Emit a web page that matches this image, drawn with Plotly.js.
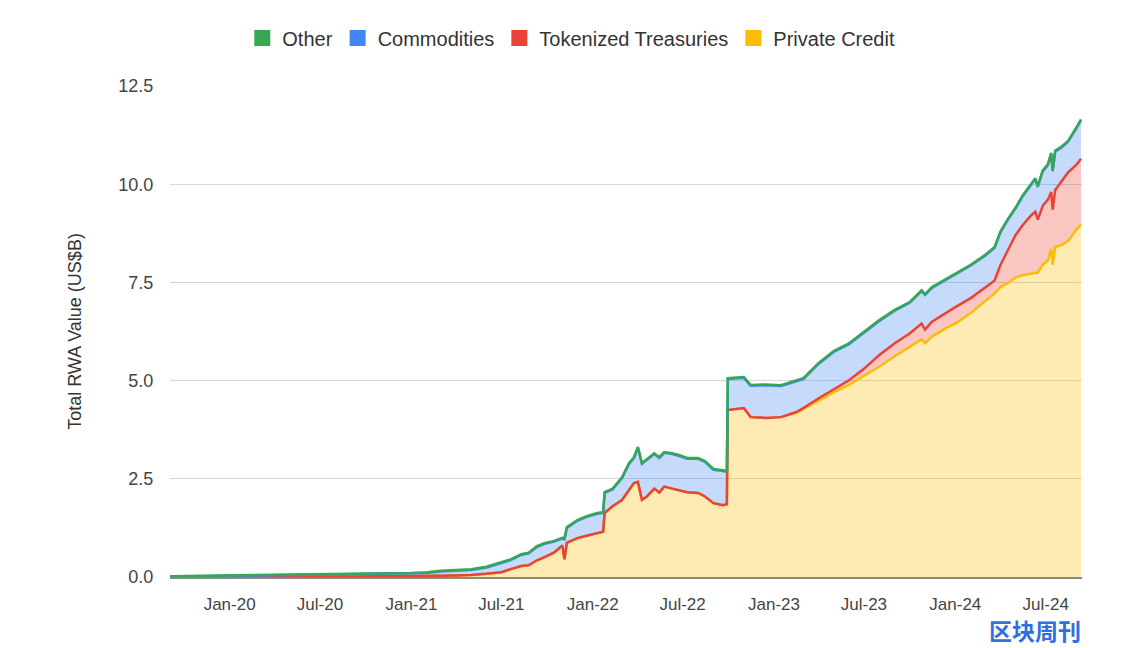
<!DOCTYPE html>
<html>
<head>
<meta charset="utf-8">
<script src="https://cdn.plot.ly/plotly-3.0.1.min.js"></script>
<style>
  body { margin: 0; background: #fff; }
  #rwa_chart { width: 1122px; height: 648px; }
</style>
</head>
<body>
<div id="rwa_chart"></div>
<script>
// dates of the readings
let dates = [
    "2019-09-03", "2019-11-01", "2020-01-01", "2020-03-01", "2020-05-01", "2020-07-01",
    "2020-09-01", "2020-11-01", "2021-01-01", "2021-02-01", "2021-03-01", "2021-04-01",
    "2021-05-01", "2021-06-01", "2021-07-01", "2021-07-20", "2021-08-10", "2021-08-25",
    "2021-09-10", "2021-09-25", "2021-10-15", "2021-11-01", "2021-11-05", "2021-11-10",
    "2021-12-01", "2021-12-20", "2022-01-10", "2022-01-22", "2022-01-25", "2022-02-10",
    "2022-03-01", "2022-03-15", "2022-03-25", "2022-04-02", "2022-04-10", "2022-04-20",
    "2022-05-05", "2022-05-15", "2022-05-25", "2022-06-10", "2022-06-25", "2022-07-10",
    "2022-08-01", "2022-08-15", "2022-09-01", "2022-09-20", "2022-09-28", "2022-09-30",
    "2022-11-01", "2022-11-15", "2022-12-15", "2023-01-15", "2023-02-15", "2023-03-01",
    "2023-04-01", "2023-05-01", "2023-06-01", "2023-07-01", "2023-08-01", "2023-09-01",
    "2023-10-01", "2023-10-25", "2023-11-01", "2023-11-15", "2023-12-15", "2024-01-01",
    "2024-02-01", "2024-03-01", "2024-03-10", "2024-03-20", "2024-04-01", "2024-04-15",
    "2024-05-01", "2024-05-15", "2024-06-01", "2024-06-10", "2024-06-15", "2024-06-25",
    "2024-07-05", "2024-07-12", "2024-07-15", "2024-07-20", "2024-08-01", "2024-08-15",
    "2024-09-01", "2024-09-10"
];

// US$B per category (not stacked)
let privateCredit = [
    0.00, 0.00, 0.01, 0.01, 0.01, 0.01,
    0.01, 0.02, 0.02, 0.02, 0.03, 0.04,
    0.05, 0.08, 0.12, 0.20, 0.28, 0.30,
    0.42, 0.50, 0.62, 0.80, 0.45, 0.87,
    0.99, 1.05, 1.12, 1.15, 1.63, 1.80,
    1.96, 2.20, 2.39, 2.42, 1.96, 2.05,
    2.25, 2.15, 2.30, 2.25, 2.20, 2.16,
    2.14, 2.05, 1.88, 1.83, 1.85, 4.25,
    4.30, 4.07, 4.05, 4.07, 4.18, 4.28,
    4.50, 4.70, 4.89, 5.12, 5.36, 5.62,
    5.85, 6.05, 5.95, 6.12, 6.35, 6.45,
    6.72, 7.02, 7.12, 7.22, 7.38, 7.48,
    7.62, 7.68, 7.72, 7.73, 7.75, 7.95,
    8.05, 8.35, 7.95, 8.40, 8.45, 8.55,
    8.85, 8.97
];

let treasuries = [
    0, 0, 0, 0, 0, 0,
    0, 0, 0, 0, 0, 0,
    0, 0, 0, 0, 0, 0,
    0, 0, 0, 0, 0, 0,
    0, 0, 0, 0, 0, 0,
    0, 0, 0, 0, 0, 0,
    0, 0, 0, 0, 0, 0,
    0, 0, 0, 0, 0, 0,
    0, 0, 0, 0, 0.02, 0.02,
    0.05, 0.08, 0.12, 0.18, 0.29, 0.33,
    0.35, 0.40, 0.35, 0.38, 0.40, 0.42,
    0.38, 0.33, 0.33, 0.33, 0.57, 0.82,
    1.08, 1.27, 1.48, 1.57, 1.35, 1.50,
    1.55, 1.45, 1.40, 1.45, 1.60, 1.75,
    1.65, 1.68
];

let commodities = [
    0.01, 0.02, 0.02, 0.02, 0.03, 0.04,
    0.05, 0.05, 0.06, 0.08, 0.11, 0.12,
    0.13, 0.16, 0.24, 0.23, 0.28, 0.30,
    0.34, 0.34, 0.28, 0.18, 0.51, 0.38,
    0.44, 0.48, 0.49, 0.48, 0.51, 0.43,
    0.56, 0.68, 0.64, 0.87, 0.92, 0.93,
    0.88, 0.88, 0.86, 0.88, 0.88, 0.85,
    0.87, 0.88, 0.85, 0.87, 0.83, 0.79,
    0.77, 0.80, 0.83, 0.79, 0.78, 0.74,
    0.88, 0.95, 0.92, 0.93, 0.87, 0.83,
    0.78, 0.83, 0.88, 0.86, 0.83, 0.84,
    0.83, 0.83, 0.83, 0.83, 0.83, 0.78,
    0.68, 0.73, 0.78, 0.83, 0.83, 0.88,
    0.88, 0.98, 0.98, 0.98, 0.88, 0.78,
    0.93, 0.98
];

let other = [
    0.01, 0.01, 0.01, 0.01, 0.01, 0.01,
    0.01, 0.01, 0.02, 0.02, 0.02, 0.02,
    0.02, 0.02, 0.02, 0.02, 0.02, 0.02,
    0.02, 0.02, 0.02, 0.02, 0.02, 0.02,
    0.02, 0.02, 0.02, 0.02, 0.02, 0.02,
    0.02, 0.02, 0.02, 0.02, 0.02, 0.02,
    0.02, 0.02, 0.02, 0.02, 0.02, 0.02,
    0.02, 0.02, 0.02, 0.02, 0.02, 0.02,
    0.02, 0.02, 0.02, 0.02, 0.02, 0.02,
    0.02, 0.02, 0.02, 0.02, 0.02, 0.02,
    0.02, 0.02, 0.02, 0.02, 0.02, 0.02,
    0.02, 0.02, 0.02, 0.02, 0.02, 0.02,
    0.02, 0.02, 0.02, 0.02, 0.02, 0.02,
    0.02, 0.02, 0.02, 0.02, 0.02, 0.02,
    0.02, 0.02
];

let seriesNames = ["Private Credit", "Tokenized Treasuries", "Commodities", "Other"];
let lineColors = ["#fbbc04", "#ea4335", "#4285f4", "#34a853"];
let fillColors = ["rgba(251,188,4,0.30)", "rgba(234,67,53,0.30)", "rgba(66,133,244,0.30)", "rgba(52,168,83,0.30)"];
let seriesValues = [privateCredit, treasuries, commodities, other];

let rwa_data = [];

// stacked areas, bottom to top
for (let i = 0; i < seriesNames.length; i++) {
    rwa_data.push({
        type: "scatter",
        mode: "lines",
        name: seriesNames[i],
        x: dates,
        y: seriesValues[i],
        stackgroup: "rwa",
        line: { color: lineColors[i], width: 2.5 },
        fillcolor: fillColors[i],
        showlegend: false
    });
}

// square legend keys, listed top series first like the sheet chart
for (let i = seriesNames.length - 1; i >= 0; i--) {
    rwa_data.push({
        type: "scatter",
        mode: "markers",
        name: seriesNames[i],
        x: [null],
        y: [null],
        marker: { symbol: "square", size: 16, color: lineColors[i] },
        hoverinfo: "skip"
    });
}

let rwa_layout = {
    width: 1122,
    height: 648,
    margin: { l: 170, r: 40, t: 86, b: 71 },
    paper_bgcolor: "#ffffff",
    plot_bgcolor: "#ffffff",
    font: { family: "'Liberation Sans', Arial, sans-serif", color: "#444", size: 17 },
    showlegend: true,
    legend: {
        orientation: "h",
        traceorder: "normal",
        itemsizing: "trace",
        x: 0.44,
        xanchor: "center",
        y: 1.098,
        yanchor: "middle",
        font: { size: 20, color: "#333" },
        itemwidth: 30
    },
    xaxis: {
        type: "date",
        range: ["2019-09-03", "2024-09-12"],
        tick0: "2020-01-01",
        dtick: "M6",
        tickformat: "%b-%y",
        showgrid: false,
        zeroline: false,
        showline: true,
        linecolor: "#8c8a80",
        linewidth: 2,
        ticks: "outside",
        ticklen: 11,
        tickcolor: "rgba(0,0,0,0)",
        tickfont: { size: 17, color: "#444" },
        layer: "above traces"
    },
    yaxis: {
        range: [0, 12.5],
        tick0: 0,
        dtick: 2.5,
        tickformat: ".1f",
        showgrid: true,
        gridcolor: "#d6d6d6",
        gridwidth: 1,
        zeroline: false,
        ticks: "outside",
        ticklen: 12,
        tickcolor: "rgba(0,0,0,0)",
        tickfont: { size: 18, color: "#444" },
        title: { text: "Total RWA Value (US$B)", font: { size: 18, color: "#333" }, standoff: 32 }
    },
    annotations: [
        {
            // watermark, kept just under the date labels
            xref: "paper", yref: "paper",
            x: 1.0, y: -0.1446,
            xanchor: "right", yanchor: "bottom",
            borderpad: 0,
            text: "<b>区块周刊</b>",
            showarrow: false,
            font: { family: "Noto Sans CJK SC", size: 23, color: "#2f6fe0" }
        }
    ]
};

Plotly.newPlot("rwa_chart", rwa_data, rwa_layout, { displayModeBar: false });
</script>
</body>
</html>
